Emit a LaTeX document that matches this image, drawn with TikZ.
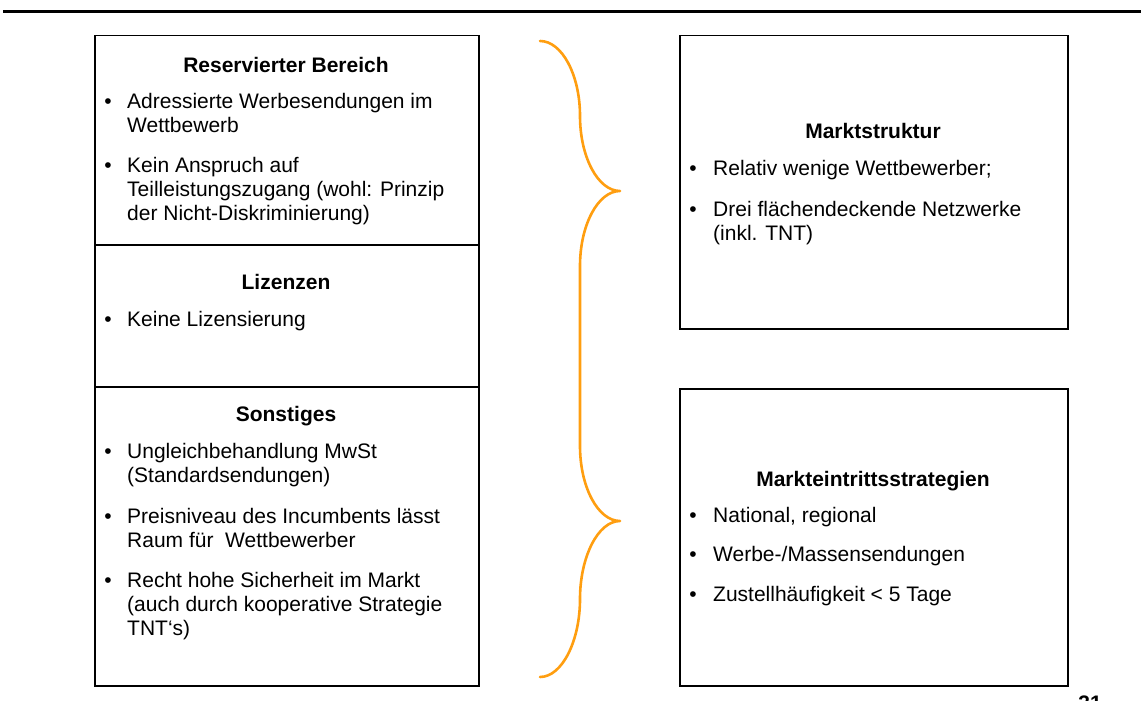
\documentclass[tikz,border=0pt]{standalone}
\usepackage{fontspec}
\setmainfont{Liberation Sans}
\definecolor{braceorange}{RGB}{255,158,16}
\begin{document}
\begin{tikzpicture}[x=1pt,y=-1pt,
  box/.style={draw=black, line width=1.5pt, anchor=north west, inner sep=0pt},
  ttl/.style={anchor=base, inner sep=0pt, font=\fontsize{21}{24}\selectfont\bfseries},
  txt/.style={anchor=base west, inner sep=0pt, font=\fontsize{21}{24}\selectfont},
  bul/.style={anchor=base, inner sep=0pt, font=\fontsize{21}{24}\selectfont},
  bracepath/.style={draw=braceorange, line width=2.6pt, line cap=round, line join=round}]
\useasboundingbox (0,0) rectangle (1141,701);
% top rule
\draw[line width=3pt] (3,12) -- (1141,12);
% left box with sections
\node[box, minimum width=384pt, minimum height=650pt] (L) at (94,35) {};
\coordinate (d1l) at (94,245); \coordinate (d1r) at (478,245);
\coordinate (d2l) at (94,387); \coordinate (d2r) at (478,387);
\draw[line width=1.5pt] (d1l) -- (d1r);
\draw[line width=1.5pt] (d2l) -- (d2r);
% right boxes
\node[box, minimum width=388pt, minimum height=293pt] (R1) at (679,35) {};
\node[box, minimum width=388pt, minimum height=297pt] (R2) at (679,388) {};
% brace
\draw[bracepath] (540,41) .. controls (562,41) and (580,75) .. (580,116)
  .. controls (580,157) and (598,191) .. (620,191)
  .. controls (598,191) and (580,225) .. (580,266) -- (580,446)
  .. controls (580,487) and (598,521) .. (620,521)
  .. controls (598,521) and (580,557) .. (580,599)
  .. controls (580,641) and (562,677) .. (540,677);
% --- left box text
\node[ttl] (t1) at (286,73) {Reservierter Bereich};
\node[bul] (b1) at (108,108) {•};
\node[txt] (l1a) at (127,108) {Adressierte Werbesendungen im};
\node[txt] (l1b) at (127,132) {Wettbewerb};
\node[bul] (b2) at (108,172) {•};
\node[txt] (l2a) at (127,172) {Kein Anspruch auf};
\node[txt] (l2b) at (127,196) {Teilleistungszugang (wohl: Prinzip};
\node[txt] (l2c) at (127,220) {der Nicht-Diskriminierung)};
\node[ttl] (t2) at (286,289) {Lizenzen};
\node[bul] (b3) at (108,326) {•};
\node[txt] (l3a) at (127,326) {Keine Lizensierung};
\node[ttl] (t3) at (286,421) {Sonstiges};
\node[bul] (b4) at (108,458) {•};
\node[txt] (l4a) at (127,458) {Ungleichbehandlung MwSt};
\node[txt] (l4b) at (127,482) {(Standardsendungen)};
\node[bul] (b5) at (108,523) {•};
\node[txt] (l5a) at (127,523) {Preisniveau des Incumbents lässt};
\node[txt] (l5b) at (127,547) {Raum für\ \ Wettbewerber};
\node[bul] (b6) at (108,587) {•};
\node[txt] (l6a) at (127,587) {Recht hohe Sicherheit im Markt};
\node[txt] (l6b) at (127,611) {(auch durch kooperative Strategie};
\node[txt] (l6c) at (127,635) {TNT‘s)};
% --- right top box
\node[ttl] (t4) at (873,139) {Marktstruktur};
\node[bul] (b7) at (693,175) {•};
\node[txt] (r1a) at (713,175) {Relativ wenige Wettbewerber;};
\node[bul] (b8) at (693,216) {•};
\node[txt] (r2a) at (713,216) {Drei flächendeckende Netzwerke};
\node[txt] (r2b) at (713,240) {(inkl. TNT)};
% --- right bottom box
\node[ttl] (t5) at (873,486) {Markteintrittsstrategien};
\node[bul] (b9) at (693,522) {•};
\node[txt] (r3a) at (713,522) {National, regional};
\node[bul] (b10) at (693,561) {•};
\node[txt] (r4a) at (713,561) {Werbe-/Massensendungen};
\node[bul] (b11) at (693,601) {•};
\node[txt] (r5a) at (713,601) {Zustellhäufigkeit < 5 Tage};
% page number fragment (cut off at the lower edge, as in the reference)
\node[ttl] (pg) at (1090,710) {31};
\end{tikzpicture}
\end{document}
